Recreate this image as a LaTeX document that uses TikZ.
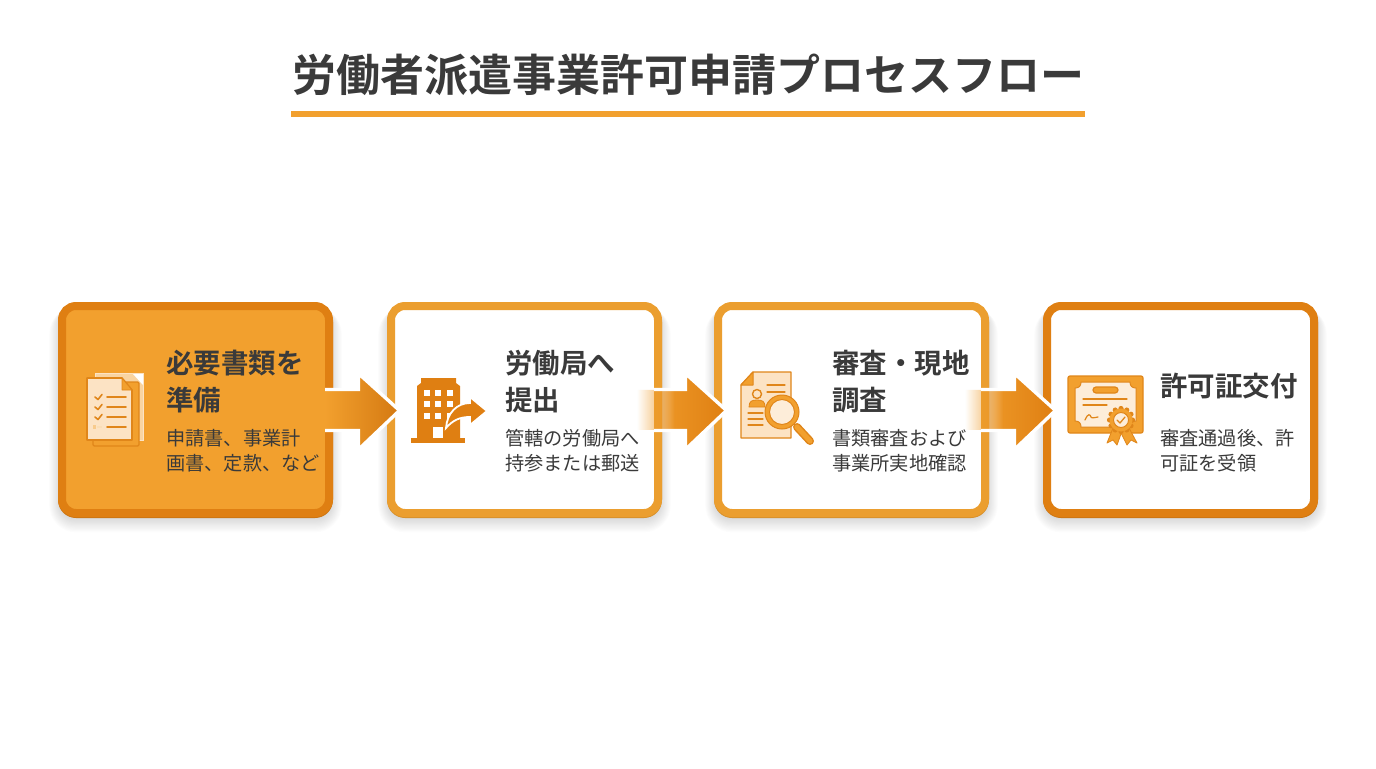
\documentclass[tikz,border=0pt]{standalone}
\usepackage{fontspec}
\setmainfont{Noto Sans CJK JP}
\newfontfamily\jpbold{Noto Sans CJK JP Bold}
\usetikzlibrary{calc,fadings}
\definecolor{ink}{HTML}{3A3A3A}
\definecolor{deep}{HTML}{DF7F12}
\definecolor{mid}{HTML}{EB9E2F}
\definecolor{amber}{HTML}{F2A02E}
\definecolor{pale}{HTML}{FCE3C4}
\definecolor{lens}{HTML}{FDEDD9}
\definecolor{iconedge}{HTML}{E0861A}
\pgfdeclarehorizontalshading{fadeshade}{100bp}{color(0bp)=(black); color(25bp)=(black); color(46bp)=(white); color(100bp)=(white)}
\tikzfading[name=arrowfade, shading=fadeshade]
\tikzset{
  cardbox/.style={draw=#1, line width=8*0.75pt, rounded corners=14*0.75pt, minimum width=267*0.75pt, minimum height=207*0.75pt, outer sep=0pt, inner sep=0pt},
  headtext/.style={anchor=west, align=left, inner sep=0pt, text=ink, font=\jpbold\fontsize{20.6}{27.75}\selectfont},
  bodytext/.style={anchor=west, align=left, inner sep=0pt, text=ink, font=\fontsize{14.4}{18.9}\selectfont},
  iconline/.style={draw=iconedge, line width=1.6*0.75pt, line cap=round, line join=round},
}
% name, centre x, border colour, fill colour
\newcommand\flowcard[4]{%
  \foreach \sh in {1,...,12}{\fill[black, opacity=0.013, rounded corners={(15+\sh)*0.75pt}]
    ({#2-135.5-\sh*0.9},307) rectangle ({#2+135.5+\sh*0.9},{518+\sh*1.2});}
  \fill[#3!92!black, rounded corners=18*0.75pt] ({#2-137.5},304) rectangle ({#2+137.5},518);
  \node[cardbox=#3, fill=#4] (#1) at (#2,409.5) {};
}
% from, to, inset of the start, shade options
\newcommand\flowarrow[4]{%
  \coordinate (tip) at ($(#2.west)+(8.5,0)$);
  \coordinate (bk) at ($(tip)+(-41,0)$);
  \coordinate (st) at ($(#1.east)+(#3,0)$);
  \shade[#4] (st |- 0,390) -- (bk |- 0,390) -- (bk |- 0,373.5) -- (tip |- 0,410.5) -- (bk |- 0,449.5) -- (bk |- 0,430) -- (st |- 0,430) -- cycle;
  \draw[white, line width=3.4*0.75pt, line join=miter]
    ($(st |- 0,389.5)+(-#3-4,0)$) -- (bk |- 0,389.5) -- (bk |- 0,373.5) -- (tip |- 0,410.5) -- (bk |- 0,449.5) -- (bk |- 0,430.5) -- ($(st |- 0,430.5)+(-#3-4,0)$);
}
\begin{document}
\begin{tikzpicture}[x=0.75pt,y=-0.75pt]
\useasboundingbox[fill=white] (0,0) rectangle (1376,768);
% title
\node[anchor=center, inner sep=0pt, text=ink, font=\jpbold\fontsize{33}{33}\selectfont] (title) at (688,75) {労働者派遣事業許可申請プロセスフロー};
\fill[amber] (291,111) rectangle (1085,117);
% cards
\flowcard{c1}{195.5}{deep}{amber}
\flowcard{c2}{524.5}{mid}{white}
\flowcard{c3}{851.5}{mid}{white}
\flowcard{c4}{1180.5}{deep}{white}
% arrows
\flowarrow{c1}{c2}{-4}{left color=amber, right color=deep!95!black}
\flowarrow{c2}{c3}{-21}{left color=amber, right color=deep, path fading=arrowfade}
\flowarrow{c3}{c4}{-20}{left color=amber, right color=deep, path fading=arrowfade}
% icon 1: documents
\fill[amber!45!white, draw=pale, line width=0.8*0.75pt] (95,373) rectangle (143,440);
\fill[white] (133,374) -- (143,374) -- (143,385) -- cycle;
\fill[amber, draw=iconedge, line width=1.2*0.75pt, rounded corners=1] (93,382) rectangle (139,446);
\path[fill=pale, iconline] (87,378) -- (122,378) -- (132,390) -- (132,440) -- (87,440) -- cycle;
\path[fill=amber, iconline, line width=0.8*0.75pt] (122,378) -- (122,390) -- (132,390) -- cycle;
\foreach \yy in {397,407,417}{
  \draw[iconline] (95,\yy) -- (98,{\yy+2.5}) -- (102,{\yy-2.5});
  \draw[iconline] (107,\yy) -- (126,\yy);
}
\draw[iconline] (107,427) -- (126,427);
\fill[amber!55!white] (93,425) rectangle (96,429);
\fill[amber!35!white] (97,426) rectangle (102,428);
% icon 2: building
\fill[deep] (411,438) rectangle (465,443);
\fill[deep] (417,438) -- (417,386) -- (421,383) -- (421,378) -- (456,378) -- (456,383) -- (460,386) -- (460,438) -- cycle;
\foreach \xx in {427,438,450}{\foreach \yy in {393,404,416}{
  \fill[white] ({\xx-3},{\yy-3}) rectangle ({\xx+3},{\yy+3});}}
\fill[white] (433,427) rectangle (443,438);
\path[fill=deep, draw=white, line width=1.8*0.75pt, line join=miter] (446,428) .. controls (447,413) and (457,403) .. (470,403) -- (470,397) -- (487,411) -- (470,425) -- (470,417) .. controls (460,417) and (453,420) .. (446,428) -- cycle;
% icon 3: document and magnifier
\path[fill=pale, draw=iconedge, line width=1.4*0.75pt, line join=round] (741,385) -- (753,372) -- (791,372) -- (791,438) -- (741,438) -- cycle;
\path[fill=amber, draw=iconedge, line width=1*0.75pt, line join=round] (741,385) -- (753,385) -- (753,372) -- cycle;
\draw[iconline, line width=1.2*0.75pt] (767,385) -- (785,385) (767,392) -- (785,392);
\fill[pale, draw=iconedge, line width=1.4*0.75pt] (757,394) circle[radius=4.5];
\path[fill=amber, draw=iconedge, line width=0.8*0.75pt] (749,407) .. controls (749,401) and (752,400) .. (757,400) .. controls (762,400) and (765,401) .. (765,407) -- cycle;
\draw[iconline, line width=1.2*0.75pt] (748,413) -- (763,413) (748,419) -- (763,419) (748,425) -- (763,425);
\draw[color=iconedge, line width=8*0.75pt, line cap=round] (797,427) -- (810,441);
\draw[color=amber, line width=5*0.75pt, line cap=round] (797,427) -- (810,441);
\fill[amber, draw=iconedge, line width=1*0.75pt] (782,412) circle[radius=17];
\fill[lens, draw=iconedge, line width=1*0.75pt] (782,412) circle[radius=12.5];
% icon 4: certificate
\path[fill=amber, draw=iconedge, line width=1.2*0.75pt, rounded corners=1.5] (1068,376) rectangle (1143,433);
\path[fill=lens, draw=iconedge, line width=1*0.75pt] (1081,382) -- (1130,382) .. controls (1130,386) and (1132,388) .. (1136,388) -- (1136,421) .. controls (1132,421) and (1130,423) .. (1130,427) -- (1081,427) .. controls (1081,423) and (1079,421) .. (1075,421) -- (1075,388) .. controls (1079,388) and (1081,386) .. (1081,382) -- cycle;
\path[fill=amber, draw=iconedge, line width=1.2*0.75pt, rounded corners=3*0.75pt] (1093,387) rectangle (1118,393);
\draw[iconline, line width=1.2*0.75pt] (1083,399) -- (1127,399) (1083,405) -- (1107,405);
\draw[iconline, line width=1.2*0.75pt] (1085,420) .. controls (1088,413) and (1090,414) .. (1091,417) .. controls (1092,419) and (1095,417) .. (1098,417);
\path[fill=amber, draw=iconedge, line width=0.8*0.75pt, line join=round] (1113,428) -- (1107,443) -- (1113,440) -- (1117,445) -- (1122,431) -- cycle;
\path[fill=amber, draw=iconedge, line width=0.8*0.75pt, line join=round] (1129,428) -- (1137,443) -- (1131,440) -- (1127,445) -- (1120,431) -- cycle;
\foreach \ang in {0,30,...,330}{\fill[iconedge] ($(1121,420)+(\ang:11.5)$) circle[radius=2.6];}
\fill[amber, draw=none] (1121,420) circle[radius=11.5];
\fill[lens, draw=iconedge, line width=1*0.75pt] (1121,420) circle[radius=7.5];
\draw[iconline, line width=1.3*0.75pt] (1117,420) -- (1120,423) -- (1125,417);
% texts
\node[headtext] (t1) at (166,381.5) {必要書類を\\準備};
\node[bodytext] (b1) at (166,450.5) {申請書、事業計\\画書、定款、など};
\node[headtext] (t2) at (505,382) {労働局へ\\提出};
\node[bodytext] (b2) at (505,450.5) {管轄の労働局へ\\持参または郵送};
\node[headtext] (t3) at (832,381.5) {審査・現地\\調査};
\node[bodytext] (b3) at (832,450.5) {書類審査および\\事業所実地確認};
\node[headtext] (t4) at (1160,386) {許可証交付};
\node[bodytext] (b4) at (1160,450.5) {審査通過後、許\\可証を受領};
\end{tikzpicture}
\end{document}
